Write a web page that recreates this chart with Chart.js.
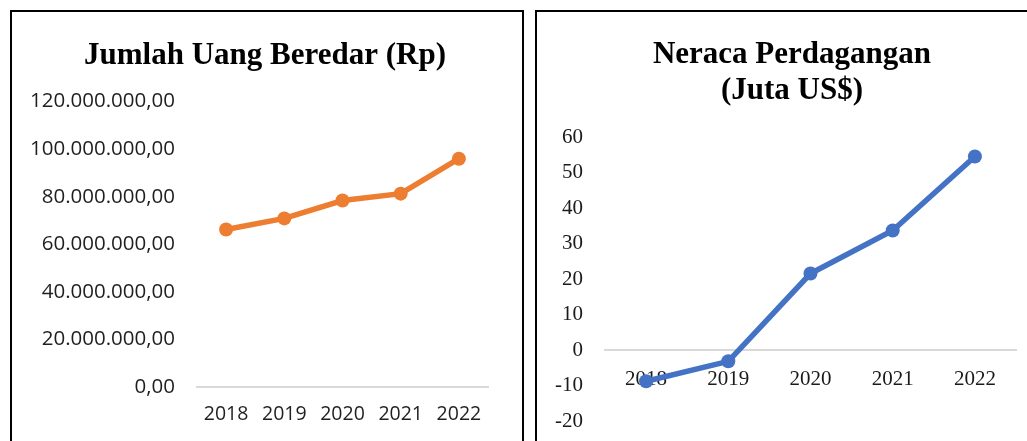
<!DOCTYPE html>
<html>
<head>
<meta charset="utf-8">
<script src="https://cdn.jsdelivr.net/npm/chart.js@4.4.1/dist/chart.umd.min.js"></script>
<style>
  html, body { margin: 0; padding: 0; background: #fff; overflow: hidden; width: 1027px; height: 441px; }
  .panel { position: absolute; top: 10px; width: 510px; height: 460px; border: 2px solid #000; background: #fff; }
  #leftPanel { left: 10px; }
  #rightPanel { left: 535px; }
  canvas { display: block; }
</style>
</head>
<body>
<div class="panel" id="leftPanel"><canvas id="uangChart" width="510" height="448"></canvas></div>
<div class="panel" id="rightPanel"><canvas id="neracaChart" width="510" height="444"></canvas></div>
<script>
// data
const years = ['2018', '2019', '2020', '2021', '2022'];
const uangBeredar = [66200000, 70900000, 78400000, 81300000, 96000000];
const neraca = [-8.7, -3.1, 21.6, 33.7, 54.5];

const uangTitle = 'Jumlah Uang Beredar (Rp)';
const neracaTitle = ['Neraca Perdagangan', '(Juta US$)'];

// 120000000 -> "120.000.000,00"
function rupiah(v) {
    const s = Math.round(v).toString().replace(/\B(?=(\d{3})+(?!\d))/g, '.');
    return s + ',00';
}

// empty right-hand axis, only keeps a margin so the title stays centred on the whole box
function spacer(w) {
    return {
        position: 'right',
        grid: { display: false, drawTicks: false },
        border: { display: false },
        ticks: { display: false },
        afterFit: s => { s.width = w; }
    };
}

Chart.defaults.animation = false;

new Chart(document.getElementById('uangChart'), {
    type: 'line',
    data: {
        labels: years,
        datasets: [{
            data: uangBeredar,
            borderColor: '#ED7D31',
            backgroundColor: '#ED7D31',
            borderWidth: 5.5,
            pointRadius: 7,
            pointBorderWidth: 0,
            tension: 0
        }]
    },
    options: {
        responsive: false,
        layout: { padding: { left: 0, right: 4, top: 0, bottom: 23 } },
        plugins: {
            legend: { display: false },
            tooltip: { enabled: false },
            title: {
                display: true,
                text: uangTitle,
                color: '#000',
                font: { family: 'Liberation Serif', size: 31, weight: 'bold', lineHeight: 1.2 },
                padding: { top: 25, bottom: 27.4 }
            }
        },
        scales: {
            x: {
                offset: true,
                grid: { display: false, drawTicks: false },
                border: { display: true, color: '#d9d9d9', width: 2 },
                ticks: { color: '#1f1f1f', padding: 16, font: { family: 'Open Sans', size: 19.5 } },
                afterFit: s => { s.height = 50; }
            },
            y: {
                min: 0,
                max: 120000000,
                grid: { display: false, drawTicks: false },
                border: { display: false },
                ticks: {
                    stepSize: 20000000,
                    color: '#1f1f1f',
                    padding: 22,
                    font: { family: 'Open Sans', size: 20.5 },
                    callback: v => rupiah(v)
                },
                afterFit: s => { s.width = 185; }
            },
            yRight: spacer(30)
        }
    }
});

new Chart(document.getElementById('neracaChart'), {
    type: 'line',
    data: {
        labels: years,
        datasets: [{
            data: neraca,
            borderColor: '#4472C4',
            backgroundColor: '#4472C4',
            borderWidth: 5.5,
            pointRadius: 7,
            pointBorderWidth: 0,
            tension: 0
        }]
    },
    options: {
        responsive: false,
        layout: { padding: { left: 0, right: 0, top: 0, bottom: 14 } },
        plugins: {
            legend: { display: false },
            tooltip: { enabled: false },
            title: {
                display: true,
                text: neracaTitle,
                color: '#000',
                font: { family: 'Liberation Serif', size: 31, weight: 'bold', lineHeight: 36 / 31 },
                padding: { top: 25, bottom: 28 }
            }
        },
        scales: {
            x: {
                position: { y: 0 },
                offset: true,
                grid: { display: false, drawTicks: false },
                border: { display: true, color: '#d9d9d9', width: 2 },
                ticks: { color: '#1a1a1a', padding: 17, font: { family: 'Liberation Serif', size: 21 } },
                afterFit: s => { s.height = 30; }
            },
            y: {
                min: -20,
                max: 60,
                grid: { display: false, drawTicks: false },
                border: { display: false },
                ticks: {
                    stepSize: 10,
                    color: '#1a1a1a',
                    padding: 22,
                    font: { family: 'Liberation Serif', size: 21 }
                },
                afterFit: s => { s.width = 68; }
            },
            yRight: spacer(31)
        }
    }
});
</script>
</body>
</html>
